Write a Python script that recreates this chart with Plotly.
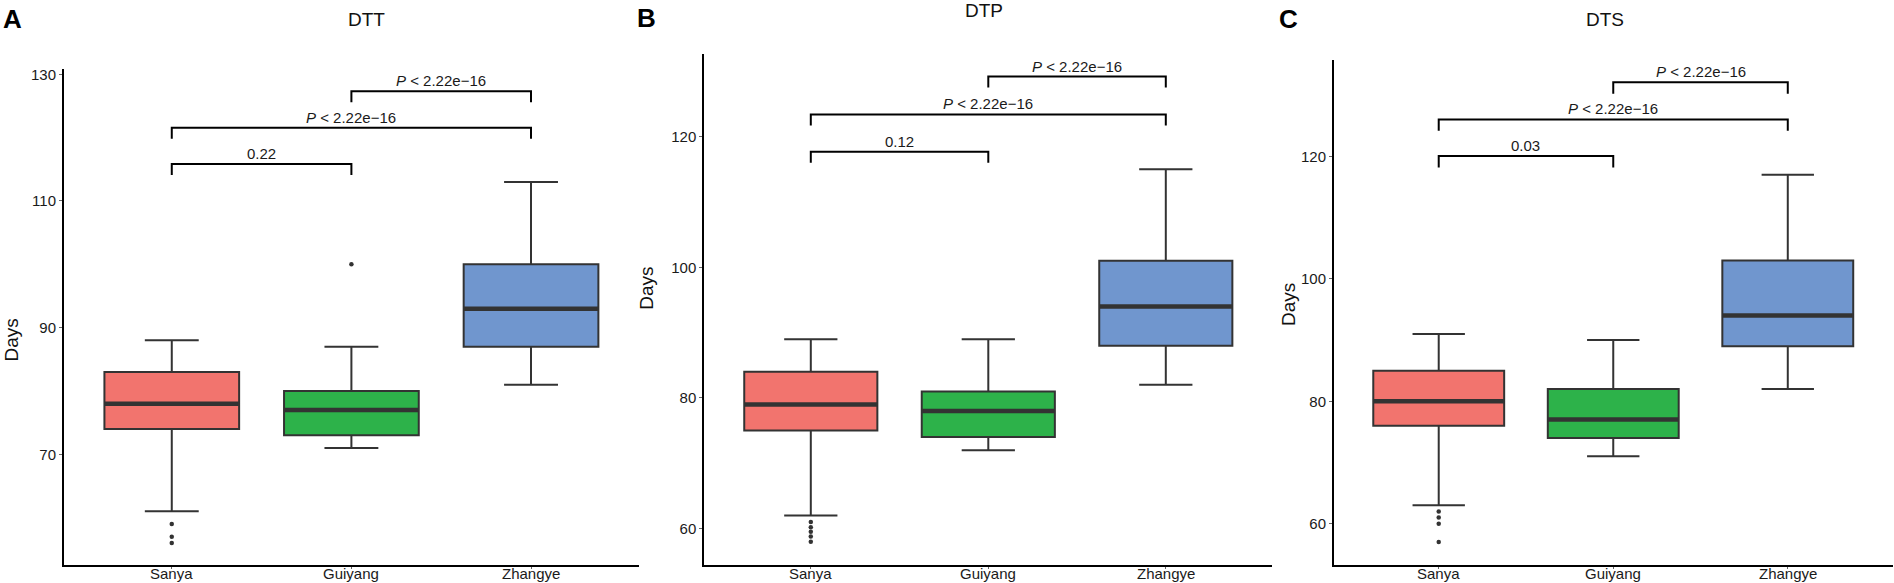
import plotly.graph_objects as go

# ---------------- data ----------------
categories = ["Sanya", "Guiyang", "Zhangye"]
panel_titles = ["DTT", "DTP", "DTS"]
panel_letters = ["A", "B", "C"]

dtt_lower = [61, 71, 81]
dtt_q1 = [74, 73, 87]
dtt_median = [78, 77, 93]
dtt_q3 = [83, 80, 100]
dtt_upper = [88, 87, 113]
dtt_outliers = [[59, 57, 56], [100], []]
dtt_pvalues = ["0.22", "<i>P</i> &lt; 2.22e\u221216", "<i>P</i> &lt; 2.22e\u221216"]

dtp_lower = [62, 72, 82]
dtp_q1 = [75, 74, 88]
dtp_median = [79, 78, 94]
dtp_q3 = [84, 81, 101]
dtp_upper = [89, 89, 115]
dtp_outliers = [[61.0, 60.2, 59.5, 58.8, 58.0], [], []]
dtp_pvalues = ["0.12", "<i>P</i> &lt; 2.22e\u221216", "<i>P</i> &lt; 2.22e\u221216"]

dts_lower = [63, 71, 82]
dts_q1 = [76, 74, 89]
dts_median = [80, 77, 94]
dts_q3 = [85, 82, 103]
dts_upper = [91, 90, 117]
dts_outliers = [[62, 61, 60, 57], [], []]
dts_pvalues = ["0.03", "<i>P</i> &lt; 2.22e\u221216", "<i>P</i> &lt; 2.22e\u221216"]

comparisons = [(0, 1), (0, 2), (1, 2)]

y_tickvals = [[70, 90, 110, 130], [60, 80, 100, 120], [60, 80, 100, 120]]

# ---------------- layout / style ----------------
W, H = 1894, 583
FONT = "Liberation Sans, Arial, Helvetica, sans-serif"
fill_colors = ["#F2746E", "#2DB24A", "#7096CE"]
edge = "#333333"
BOX_W = 0.75
XLABEL_Y = 573.5  # pixel centre of category labels

panels = [
    dict(lower=dtt_lower, q1=dtt_q1, med=dtt_median, q3=dtt_q3, upper=dtt_upper,
         out=dtt_outliers, p=dtt_pvalues,
         xdom=(64, 638.8), ydom=(69.3, 565.3), yrange=(52.48, 130.79),
         br_top=[115.85, 121.58, 127.33], tip=1.74,
         title_xy=(366.7, 19.3), letter_xy=(12, 19), days_xy=(10.5, 340)),
    dict(lower=dtp_lower, q1=dtp_q1, med=dtp_median, q3=dtp_q3, upper=dtp_upper,
         out=dtp_outliers, p=dtp_pvalues,
         xdom=(704.3, 1272.3), ydom=(54.3, 564.7), yrange=(54.47, 132.6),
         br_top=[117.7, 123.4, 129.2], tip=1.7,
         title_xy=(984.3, 10.7), letter_xy=(646.8, 17.5), days_xy=(646.8, 288)),
    dict(lower=dts_lower, q1=dts_q1, med=dts_median, q3=dts_q3, upper=dts_upper,
         out=dts_outliers, p=dts_pvalues,
         xdom=(1334, 1892.5), ydom=(60, 565), yrange=(53.25, 135.75),
         br_top=[120.05, 126.05, 132.1], tip=1.85,
         title_xy=(1605, 19.3), letter_xy=(1288.5, 18.6), days_xy=(1288, 305)),
]

fig = go.Figure()
annotations = []
positions = [i + 1 for i in range(len(categories))]

for k, P in enumerate(panels):
    xa = "x" if k == 0 else f"x{k+1}"
    ya = "y" if k == 0 else f"y{k+1}"
    for i, pos in enumerate(positions):
        fig.add_trace(go.Box(
            x=[pos], q1=[P["q1"][i]], median=[P["med"][i]], q3=[P["q3"][i]],
            lowerfence=[P["lower"][i]], upperfence=[P["upper"][i]],
            orientation="v", width=BOX_W, whiskerwidth=0.4,
            fillcolor=fill_colors[i], line=dict(color=edge, width=2),
            boxpoints=False, showlegend=False, hoverinfo="skip",
            xaxis=xa, yaxis=ya))
        # thick median bar
        fig.add_trace(go.Scatter(
            x=[pos - BOX_W / 2, pos + BOX_W / 2], y=[P["med"][i], P["med"][i]],
            mode="lines", line=dict(color=edge, width=4.5),
            showlegend=False, hoverinfo="skip", xaxis=xa, yaxis=ya))
        if P["out"][i]:
            fig.add_trace(go.Scatter(
                x=[pos] * len(P["out"][i]), y=P["out"][i], mode="markers",
                marker=dict(color=edge, size=4.5),
                showlegend=False, hoverinfo="skip", xaxis=xa, yaxis=ya))
        # category label
        annotations.append(dict(
            x=pos, y=1 - XLABEL_Y / H, xref=xa, yref="paper", text=categories[i],
            showarrow=False, xanchor="center", yanchor="middle",
            font=dict(family=FONT, size=15, color="#1a1a1a")))
    # brackets
    for (a, b), top, lab in zip(comparisons, P["br_top"], P["p"]):
        xa_, xb_ = positions[a], positions[b]
        fig.add_trace(go.Scatter(
            x=[xa_, xa_, xb_, xb_], y=[top - P["tip"], top, top, top - P["tip"]],
            mode="lines", line=dict(color="black", width=2),
            showlegend=False, hoverinfo="skip", xaxis=xa, yaxis=ya))
        annotations.append(dict(
            x=(xa_ + xb_) / 2, y=top, xref=xa, yref=ya, text=lab,
            showarrow=False, yshift=10.5, xanchor="center", yanchor="middle",
            font=dict(family=FONT, size=15, color="#1a1a1a")))
    # title, letter, y title
    tx, ty = P["title_xy"]
    annotations.append(dict(x=tx / W, y=1 - ty / H, xref="paper", yref="paper",
                            text=panel_titles[k], showarrow=False,
                            xanchor="center", yanchor="middle",
                            font=dict(family=FONT, size=19, color="#111")))
    lx, ly = P["letter_xy"]
    annotations.append(dict(x=lx / W, y=1 - ly / H, xref="paper", yref="paper",
                            text=f"<b>{panel_letters[k]}</b>", showarrow=False,
                            xanchor="center", yanchor="middle",
                            font=dict(family=FONT, size=26, color="black")))
    dx, dy = P["days_xy"]
    annotations.append(dict(x=dx / W, y=1 - dy / H, xref="paper", yref="paper",
                            text="Days", textangle=-90, showarrow=False,
                            xanchor="center", yanchor="middle",
                            font=dict(family=FONT, size=19, color="#111")))

    x0, x1 = P["xdom"]
    yt, yb = P["ydom"]
    xkey = "xaxis" if k == 0 else f"xaxis{k+1}"
    ykey = "yaxis" if k == 0 else f"yaxis{k+1}"
    fig.update_layout(**{
        xkey: dict(domain=[x0 / W, x1 / W], anchor=ya, range=[0.4, 3.6],
                   tickvals=positions, showticklabels=False,
                   showline=True, linecolor="black", linewidth=2,
                   ticks="outside", ticklen=2, tickcolor="#666", tickwidth=1,
                   showgrid=False, zeroline=False, automargin=False),
        ykey: dict(domain=[1 - yb / H, 1 - yt / H], anchor=xa,
                   range=list(P["yrange"]), tickvals=y_tickvals[k],
                   showline=True, linecolor="black", linewidth=2,
                   ticks="outside", ticklen=3, tickcolor="#666", tickwidth=1,
                   showgrid=False, zeroline=False, automargin=False,
                   tickfont=dict(family=FONT, size=15, color="#1a1a1a")),
    })

fig.update_layout(
    width=W, height=H, autosize=False,
    margin=dict(l=0, r=0, t=0, b=0, pad=0),
    paper_bgcolor="white", plot_bgcolor="white",
    boxmode="overlay", showlegend=False,
    annotations=annotations,
)

fig.write_html(
    "out.html",
    config={"displayModeBar": False, "responsive": False},
    post_script="document.body.style.margin='0';document.body.style.overflow='hidden';",
)
